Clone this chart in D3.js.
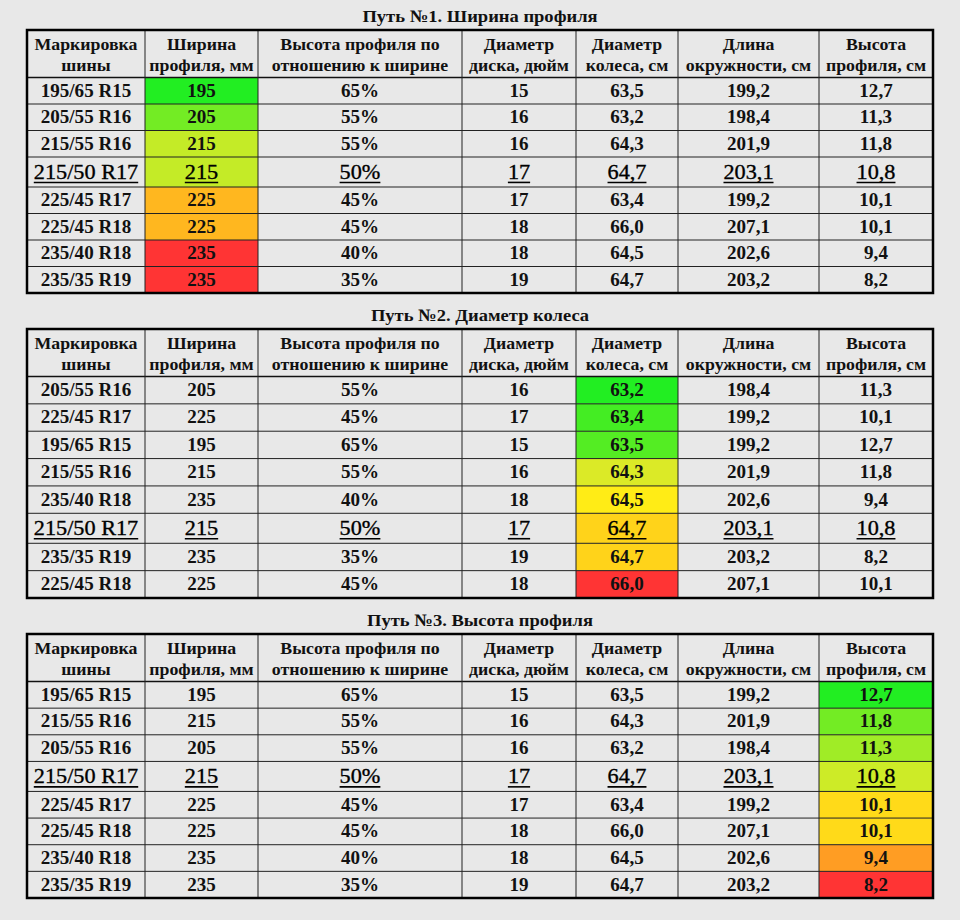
<!DOCTYPE html>
<html>
<head>
<meta charset="utf-8">
<script src="https://cdn.jsdelivr.net/npm/d3@7"></script>
<style>
  html, body { margin: 0; padding: 0; background: #e8e8e8; }
  svg { display: block; }
  text { font-family: "Liberation Serif", "Times New Roman", serif; fill: #111; }
</style>
</head>
<body>
<svg id="chart" width="960" height="920"></svg>
<script>
// ---------- DATA ----------
const tires        = ["195/65 R15", "205/55 R16", "215/55 R16", "215/50 R17", "225/45 R17", "225/45 R18", "235/40 R18", "235/35 R19"];
const widthsMm     = [195, 205, 215, 215, 225, 225, 235, 235];
const aspectPct    = [65, 55, 55, 50, 45, 45, 40, 35];
const rimInch      = [15, 16, 16, 17, 17, 18, 18, 19];
const wheelDiamCm  = [63.5, 63.2, 64.3, 64.7, 63.4, 66.0, 64.5, 64.7];
const circumCm     = [199.2, 198.4, 201.9, 203.1, 199.2, 207.1, 202.6, 203.2];
const profileCm    = [12.7, 11.3, 11.8, 10.8, 10.1, 10.1, 9.4, 8.2];
const highlighted  = "215/50 R17";

const headers = [
  ["Маркировка", "шины"],
  ["Ширина", "профиля, мм"],
  ["Высота профиля по", "отношению к ширине"],
  ["Диаметр", "диска, дюйм"],
  ["Диаметр", "колеса, см"],
  ["Длина", "окружности, см"],
  ["Высота", "профиля, см"]
];
const columnKeys = ["tire", "width", "aspect", "rim", "diam", "circ", "profile"];

const tableTitles = ["Путь №1. Ширина профиля", "Путь №2. Диаметр колеса", "Путь №3. Высота профиля"];
const tableOrders = [
  ["195/65 R15", "205/55 R16", "215/55 R16", "215/50 R17", "225/45 R17", "225/45 R18", "235/40 R18", "235/35 R19"],
  ["205/55 R16", "225/45 R17", "195/65 R15", "215/55 R16", "235/40 R18", "215/50 R17", "235/35 R19", "225/45 R18"],
  ["195/65 R15", "215/55 R16", "205/55 R16", "215/50 R17", "225/45 R17", "225/45 R18", "235/40 R18", "235/35 R19"]
];
const colouredColumn = ["width", "diam", "profile"];
const higherIsBetter = [false, false, true];

// ---------- LAYOUT ----------
const colWidths = [118, 113, 204, 114, 102, 141, 114];
const tableLeft = 27;
const tableTops = [30, 329, 634];
const tableBottoms = [293, 598, 898];
const headerH = 47.5;
const highlightH = 30;
const STRETCH = 1.06;

const colEdges = [tableLeft];
colWidths.forEach(w => colEdges.push(colEdges[colEdges.length - 1] + w));
const xCol = d3.scaleOrdinal().domain(columnKeys).range(colEdges.slice(0, -1));
const wCol = d3.scaleOrdinal().domain(columnKeys).range(colWidths);
const tableRight = colEdges[colEdges.length - 1];

const fmt1 = v => d3.format(".1f")(v).replace(".", ",");
const records = tires.map((t, i) => ({
  tire: t, width: widthsMm[i], aspect: aspectPct[i], rim: rimInch[i],
  diam: wheelDiamCm[i], circ: circumCm[i], profile: profileCm[i]
}));
const byTire = new Map(records.map(r => [r.tire, r]));
const display = {
  tire: v => v, width: v => String(v), aspect: v => v + "%", rim: v => String(v),
  diam: fmt1, circ: fmt1, profile: fmt1
};

const GREEN = "rgb(34,238,34)", YELLOW_G = "rgb(236,234,40)", YELLOW_R = "rgb(255,248,20)", RED = "rgb(255,52,52)";

const svg = d3.select("#chart");

function stretchedText(parent, x, y, str) {
  return parent.append("text")
    .attr("transform", `translate(${x},${y}) scale(${STRETCH},1)`)
    .attr("text-anchor", "middle")
    .text(str);
}

tableOrders.forEach((order, ti) => {
  const g = svg.append("g");
  const top = tableTops[ti], bottom = tableBottoms[ti];
  const rowH = (bottom - top - headerH - highlightH) / (order.length - 1);

  const ys = [];
  let y = top + headerH;
  order.forEach(t => { ys.push(y); y += (t === highlighted ? highlightH : rowH); });
  const yRow = d3.scaleOrdinal().domain(order).range(ys);
  const hRow = t => t === highlighted ? highlightH : rowH;

  // 3-colour scale (midpoint = median) for the ranking column
  const key = colouredColumn[ti];
  const vals = order.map(t => byTire.get(t)[key]);
  const lo = d3.min(vals), hi = d3.max(vals), mid = d3.median(vals);
  const colour = d3.scaleLinear()
    .domain([lo, mid, mid, hi])
    .range(higherIsBetter[ti] ? [RED, YELLOW_R, YELLOW_G, GREEN] : [GREEN, YELLOW_G, YELLOW_R, RED])
    .interpolate(d3.interpolateRgb);

  // title
  stretchedText(g, (tableLeft + tableRight) / 2, top - 8, tableTitles[ti])
    .attr("font-weight", "bold")
    .attr("font-size", 17.5);

  // coloured cells
  g.selectAll("rect.cell").data(order).join("rect")
    .attr("class", "cell")
    .attr("x", xCol(key))
    .attr("y", t => yRow(t))
    .attr("width", wCol(key))
    .attr("height", t => hRow(t))
    .attr("fill", t => colour(byTire.get(t)[key]));

  // header text
  columnKeys.forEach((k, ci) => {
    headers[ci].forEach((line, li) => {
      stretchedText(g, xCol(k) + wCol(k) / 2, top + 20 + li * 21, line)
        .attr("font-weight", "bold")
        .attr("font-size", 16.8);
    });
  });

  // body text
  order.forEach(t => {
    const rec = byTire.get(t);
    const isH = t === highlighted;
    columnKeys.forEach(k => {
      const fs = isH ? 21 : 18;
      const cx = xCol(k) + wCol(k) / 2;
      const by = yRow(t) + hRow(t) / 2 + fs * 0.33;
      const txt = stretchedText(g, cx, by, display[k](rec[k]))
        .attr("font-weight", isH ? "normal" : "bold")
        .attr("font-size", fs);
      if (isH) {
        txt.style("fill", "#000").attr("stroke", "#000").attr("stroke-width", 0.35);
        const w = txt.node().getComputedTextLength() * STRETCH;
        g.append("line")
          .attr("x1", cx - w / 2).attr("x2", cx + w / 2)
          .attr("y1", by + 3.5).attr("y2", by + 3.5)
          .attr("stroke", "#000").attr("stroke-width", 1.6);
      }
    });
  });

  // grid lines
  const bottomY = y;
  g.selectAll("line.h").data(order.slice(1)).join("line")
    .attr("x1", tableLeft).attr("x2", tableRight)
    .attr("y1", t => yRow(t)).attr("y2", t => yRow(t))
    .attr("stroke", "#222").attr("stroke-width", 1);
  g.append("line")
    .attr("x1", tableLeft).attr("x2", tableRight)
    .attr("y1", top + headerH).attr("y2", top + headerH)
    .attr("stroke", "#111").attr("stroke-width", 1.6);
  g.selectAll("line.v").data(columnKeys.slice(1)).join("line")
    .attr("x1", k => xCol(k)).attr("x2", k => xCol(k))
    .attr("y1", top).attr("y2", bottomY)
    .attr("stroke", "#222").attr("stroke-width", 1);
  g.append("rect")
    .attr("x", tableLeft).attr("y", top)
    .attr("width", tableRight - tableLeft).attr("height", bottomY - top)
    .attr("fill", "none").attr("stroke", "#000").attr("stroke-width", 2.5);
});
</script>
</body>
</html>
